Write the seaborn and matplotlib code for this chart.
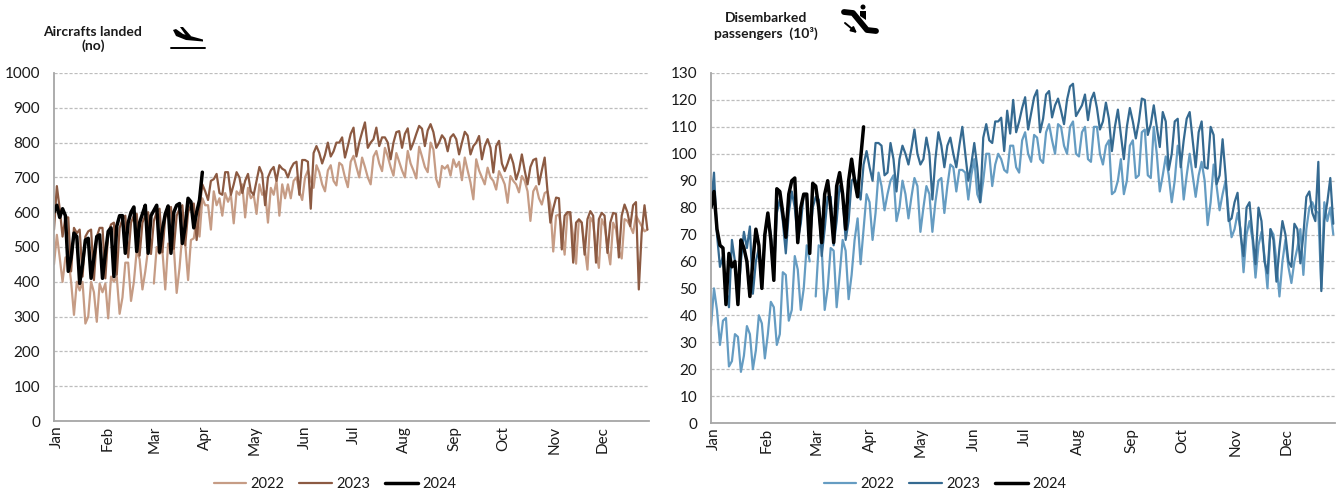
import numpy as np
import pandas as pd
import matplotlib
matplotlib.use('Agg')
import matplotlib.pyplot as plt
import matplotlib.patches as mpatches
from matplotlib.lines import Line2D
from matplotlib.transforms import ScaledTranslation
import seaborn as sns

nan = float('nan')

MONTHS = ['Jan', 'Feb', 'Mar', 'Apr', 'May', 'Jun', 'Jul', 'Aug', 'Sep', 'Oct', 'Nov', 'Dec']
MONTH_STARTS = [0, 31, 60, 91, 121, 152, 182, 213, 244, 274, 305, 335]
YEARS = ['2022', '2023', '2024']
SAMPLE_DAYS = 1.75

# readings, four per week
aircraft_2022 = [
    450, 535, 470, 400, 470, 470, 400, 305, 400, 375, 400, 280, 300, 400, 370, 285,
    395, 370, 395, 295, 415, 400, 415, 308, 355, 455, 455, 345, 400, 490, 465, 378,
    430, 495, nan, 395, 500, 480, 490, 378, 510, 490, 500, 368, 440, 540, 510, 405,
    520, 525, 580, 530, 640, 620, 620, 550, 660, 620, 640, 590, 655, 630, 650, 568,
    660, 650, 680, 585, 670, 640, 650, 595, 680, 650, 660, 570, 670, 650, 690, 590,
    680, 640, 680, 640, 690, 700, 660, 635, 700, 720, 690, 670, 735, 715, 680, 660,
    720, 735, 690, 677, 742, 735, 700, 672, 745, 762, 730, 700, 757, 730, 700, 680,
    760, 776, 740, 718, 785, 760, 730, 705, 770, 745, 720, 700, 776, 740, 720, 697,
    788, 760, 730, 715, 800, 780, 695, 672, 733, 725, 735, 705, 752, 730, 745, 692,
    757, 720, 685, 637, 752, 720, 700, 680, 728, 700, 690, 665, 718, 700, 680, 627,
    704, 690, 680, 657, 704, 690, 660, 575, 660, 675, 640, 622, 655, 660, 620, 487,
    590, 593, 550, 478, 600, 590, 530, 452, 580, 570, 500, 435, 585, 570, 490, 440,
    580, 560, 500, 450, 570, 550, 490, 467, 580, 575, 560, 540, 590, 575, 560, 545,
    550,
]
aircraft_2023 = [
    550, 675, 610, 530, 585, 585, 430, 555, 540, 550, 415, 530, 545, 550, 405, 530,
    555, 555, 410, 540, 565, 570, 420, 555, 580, 590, 470, 570, 590, 595, 475, 570,
    590, 600, 480, 575, 600, 610, 485, 585, 605, 615, 495, 590, 610, 620, 505, 600,
    620, 625, 520, 610, 680, 660, 635, 690, 695, 710, 655, 650, 715, 715, 650, 680,
    715, 700, 655, 690, 710, 660, 650, 690, 730, 710, 620, 700, 720, 730, 690, 735,
    725, 720, 700, 725, 740, 745, 650, 750, 750, 745, 610, 770, 790, 770, 740, 765,
    800, 760, 775, 800, 800, 815, 757, 790, 825, 843, 760, 800, 830, 858, 785, 800,
    810, 843, 790, 815, 815, 800, 752, 800, 830, 833, 785, 825, 841, 780, 800, 825,
    848, 840, 790, 835, 853, 830, 785, 800, 821, 810, 775, 815, 824, 810, 766, 800,
    831, 820, 766, 790, 800, 819, 752, 790, 810, 785, 714, 790, 805, 740, 718, 740,
    766, 740, 694, 720, 766, 720, 680, 730, 750, 754, 680, 720, 757, 660, 570, 610,
    642, 640, 493, 590, 600, 600, 455, 570, 579, 570, 478, 580, 603, 590, 455, 580,
    598, 590, 483, 570, 598, 595, 470, 590, 622, 600, 560, 620, 629, 378, 540, 620,
    550,
]
aircraft_2024 = [
    600, 620, 585, 610, 590, 430, 470, 540, 530, 395, 450, 520, 525, 410, 470, 530,
    535, 410, 480, 545, 555, 415, 560, 590, 590, 482, 570, 600, 615, 487, 570, 595,
    620, 482, 590, 605, 620, 485, 550, 595, 618, 482, 600, 620, 625, 510, 560, 640,
    630, 555, 600, 635, 715,
]
passengers_2022 = [
    36, 50, 42, 29, 38, 39, 21, 23, 33, 32, 19, 25, 36, 33, 20, 27,
    40, 37, 24, 33, 45, 43, 29, 33, 56, 55, 38, 42, 62, 57, 42, 50,
    66, 60, nan, 47, 66, 65, 42, 50, 65, 64, 43, 55, 68, 64, 46, 55,
    68, 76, 59, 72, 85, 82, 68, 78, 93, 88, 79, 85, 90, 92, 75, 80,
    90, 85, 76, 84, 91, 88, 71, 80, 88, 85, 71, 82, 90, 91, 78, 88,
    96, 95, 86, 94, 94, 93, 83, 92, 98, 85, 82, 90, 100, 100, 88, 96,
    100, 98, 94, 93, 103, 103, 95, 93, 105, 108, 100, 97, 107, 106, 98, 96.6,
    108, 111, 105, 100, 111, 110, 103, 100, 110, 112, 100, 99, 108, 110, 98, 97,
    110, 110, 100, 96, 103, 105, 85, 86, 90, 98, 85, 90, 103, 105, 91, 92,
    108, 109, 92, 91, 110, 100, 86, 92, 99, 92, 82, 90, 103, 98, 83, 92,
    100, 92, 84, 92, 97, 90, 73.5, 82, 96, 88, 79, 85, 90, 78, 69, 72,
    78, 72, 56, 70, 75, 68, 54, 66, 71, 62, 50, 72, 70, 60, 47, 60,
    68, 58, 52, 60, 65, 72, 55, 72, 80, 82, 79, 78, 50, 82, 75, 80,
    70,
]
passengers_2023 = [
    80, 93, 70, 58, 62, 50, 43, 68, 60, 45, 60, 71, 65, 73, 48, 60,
    65, 50, 70, 77, 70, 55, 78, 83, 75, 63, 78, 86, 80, 68, 74, 85,
    85, 67, 80, 84, 83, 62, 72, 84, 84, 66, 75, 88, 85, 68, 75, 90,
    91, 88, 83, 96, 101, 95, 90, 104, 104, 103, 92, 93, 104, 98, 86, 98,
    103, 100, 96, 102, 109, 100, 96, 98, 106, 100, 83, 98, 108, 103, 95, 103,
    106, 100, 95, 103, 110, 100, 90, 96, 104, 95, 82, 106, 111, 105, 104, 112,
    112, 113.4, 101, 116, 107.5, 120, 108, 112, 117, 121, 109, 115, 121, 123.6, 108, 113,
    122, 123.3, 113.5, 118, 120.5, 116, 111, 120, 125, 126, 114, 116, 118, 122, 112.5, 120,
    122.7, 117, 109, 112, 119, 113, 101, 110, 116.4, 107, 98, 110, 117, 112, 105.7, 112,
    120.5, 120, 107, 111, 118, 110, 102.5, 115.5, 112, 94, 100, 112, 113, 95, 105, 113,
    115.5, 105, 95, 108, 112, 95, 94.5, 110, 107, 88.7, 92, 105.4, 92, 75, 76, 82,
    85.5, 70, 62, 80, 82, 70, 59, 80, 75, 60, 55.6, 72, 68, 52.5, 65, 75,
    70, 60, 58, 74, 72, 59.3, 70, 84, 86, 78, 75, 97, 49, 75, 82, 91,
    74,
]
passengers_2024 = [
    80, 86, 72, 66, 65, 44, 63, 58, 60, 44, 68, 65, 60, 47, 60, 72,
    66, 50, 70, 78, 68, 53, 87, 86, 78, 69, 85, 90, 91, 67, 80, 85,
    85, 63, 89, 88, 80, 67, 85, 90, 80, 67, 88, 93, 85, 72, 90, 98,
    90, 84, 98, 110,
]

AIRCRAFT_COLORS = {'2022': '#C69C85', '2023': '#8C5A42', '2024': '#000000'}
PASSENGER_COLORS = {'2022': '#659CC2', '2023': '#356A91', '2024': '#000000'}
LINE_WIDTHS = {'2022': 1.6, '2023': 1.6, '2024': 2.5}

W, H = 1336, 494


def px(x, y):
    return x / W, 1 - y / H


def build_frame(series):
    rows = []
    for year, values in zip(YEARS, series):
        values = np.array(values, dtype=float)
        # a missing day splits the line, seaborn would otherwise join across it
        rows.append(pd.DataFrame({
            'day': np.arange(len(values)) * SAMPLE_DAYS,
            'value': values,
            'year': year,
            'seg': np.cumsum(np.isnan(values)),
        }))
    return pd.concat(rows, ignore_index=True)


def draw_panel(fig, box, series, colors, ymax, ystep, label_shift, legend_x):
    left, top, right, bottom = box
    ax = fig.add_axes([left / W, 1 - bottom / H, (right - left) / W, (bottom - top) / H])
    df = build_frame(series)
    sns.lineplot(data=df, x='day', y='value', hue='year', size='year', units='seg',
                 estimator=None, palette=colors, sizes=LINE_WIDTHS, ax=ax, legend='full')
    ax.set_xlim(0, 365)
    ax.set_ylim(0, ymax)
    ax.set_xlabel('')
    ax.set_ylabel('')
    ax.set_yticks(np.arange(0, ymax + 1, ystep))
    ax.set_xticks(MONTH_STARTS)
    ax.set_xticklabels(MONTHS, rotation=90)
    ax.tick_params(axis='x', length=0, pad=3.5, labelsize=11)
    ax.tick_params(axis='y', length=4, width=1, color='#A6A6A6', labelsize=11, pad=6)
    # tick_params resets the label transform, so shift has to come after it
    shift = ScaledTranslation(label_shift / 100, 0, fig.dpi_scale_trans)
    for lab in ax.get_xticklabels():
        lab.set_transform(lab.get_transform() + shift)
    ax.grid(False)
    ax.yaxis.grid(True, color='#BDBDBD', linestyle=(0, (2.5, 1.5)), linewidth=0.9)
    ax.set_axisbelow(True)
    for name in ['top', 'right']:
        ax.spines[name].set_visible(False)
    for name in ['left', 'bottom']:
        ax.spines[name].set_color('#A6A6A6')
        ax.spines[name].set_linewidth(1.3)
    handles = [Line2D([], [], color=colors[y], lw=LINE_WIDTHS[y]) for y in YEARS]
    ax.legend(handles, YEARS, ncol=3, frameon=False, fontsize=10.5, handlelength=2.25,
              columnspacing=1.0, handletextpad=0.3, loc='center',
              bbox_to_anchor=(legend_x / W, 1 - 484 / H), bbox_transform=fig.transFigure)
    return ax


def draw_plane(fig):
    body = [(173, 30), (176, 29), (183, 34), (203, 39.5), (203, 41.5), (186, 40), (176, 36)]
    wing = [(180, 27), (183, 27), (191, 36), (187, 37)]
    for pts in (body, wing):
        fig.add_artist(mpatches.Polygon([px(*p) for p in pts], closed=True, color='black',
                                        lw=0, transform=fig.transFigure))
    xs, ys = zip(px(171, 48.5), px(205, 48.5))
    fig.add_artist(Line2D(xs, ys, color='black', lw=1.4, transform=fig.transFigure))


def draw_escalator(fig):
    xs, ys = zip(px(844, 12), px(853, 13), px(867, 30), px(876, 31))
    fig.add_artist(Line2D(xs, ys, color='black', lw=4.2, solid_capstyle='round',
                          solid_joinstyle='round', transform=fig.transFigure))
    fig.add_artist(mpatches.Ellipse(px(863, 7), 5 / W, 5 / H, color='black', lw=0,
                                    transform=fig.transFigure))
    fig.add_artist(mpatches.Polygon([px(*p) for p in [(860, 11), (866, 11), (866, 20), (860, 16)]],
                                    closed=True, color='black', lw=0, transform=fig.transFigure))
    fig.add_artist(mpatches.FancyArrowPatch(px(845, 23), px(857, 33), arrowstyle='-|>',
                                            mutation_scale=8, lw=1.4, color='black',
                                            shrinkA=0, shrinkB=0, transform=fig.transFigure))


def main():
    sns.set_theme(style='white')
    plt.rcParams['font.family'] = ['Lato', 'DejaVu Sans']
    plt.rcParams['text.color'] = '#1A1A1A'
    plt.rcParams['xtick.color'] = '#1A1A1A'
    plt.rcParams['ytick.color'] = '#1A1A1A'

    fig = plt.figure(figsize=(W / 100, H / 100), dpi=100, facecolor='white')

    draw_panel(fig, (54, 73, 649, 421), [aircraft_2022, aircraft_2023, aircraft_2024],
               AIRCRAFT_COLORS, 1000, 100, 3, 335)
    draw_panel(fig, (711, 73, 1335, 423), [passengers_2022, passengers_2023, passengers_2024],
               PASSENGER_COLORS, 130, 10, 3, 945)

    fig.text(*px(93, 39), 'Aircrafts landed\n(no)', ha='center', va='center',
             fontsize=10, fontweight='bold', linespacing=1.2)
    fig.text(*px(766, 26), 'Disembarked\npassengers  (10³)', ha='center', va='center',
             fontsize=10, fontweight='bold', linespacing=1.25)
    draw_plane(fig)
    draw_escalator(fig)

    fig.savefig('out.png', dpi=100, facecolor='white')


if __name__ == '__main__':
    main()
